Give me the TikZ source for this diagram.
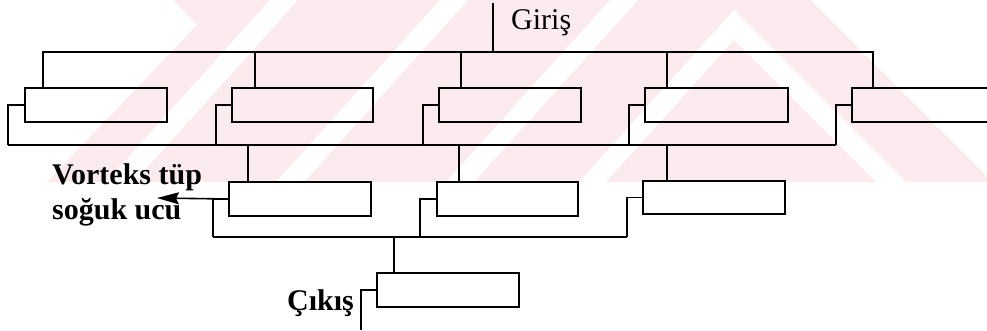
\documentclass[tikz,border=0pt]{standalone}
\usepackage{fontspec}
\setmainfont{Liberation Serif}
\usetikzlibrary{arrows.meta,calc}
\definecolor{wmpink}{RGB}{252,235,238}
\begin{document}
\begin{tikzpicture}[x=1pt,y=-1pt,
  unit/.style={draw, line width=1.6pt, minimum width=142pt, minimum height=34pt,
    anchor=north west, inner sep=0pt, outer sep=0pt},
  pipe/.style={line width=1.6pt, line join=miter},
  lbl/.style={font=\fontsize{30}{35}\selectfont\bfseries, inner sep=0pt, align=left},
  plain/.style={font=\fontsize{30}{35}\selectfont, inner sep=0pt}]
\useasboundingbox (0,0) rectangle (987,330);

% background striped watermark
\begin{scope}
  \clip (0,0) rectangle (987,182);
  \fill[wmpink] (173,0) -- (197,25) -- (47,182) -- (992,182) -- (810,0) -- cycle;
  \foreach \c in {270,440,610}
    \fill[white] (\c,0) -- ++(28,0) -- ++(-164,182) -- ++(-28,0) -- cycle;
  \fill[white] (734,10) -- (906,182) -- (876,182) -- (734,40) -- (606,182) -- (579,182) -- cycle;
\end{scope}

% first stage
\node[unit] (b1) at (25,88) {};
\node[unit, minimum width=141pt] (b2) at (232,88) {};
\node[unit] (b3) at (439,88) {};
\node[unit, minimum width=143pt] (b4) at (645,88) {};
\node[unit, minimum width=150pt] (b5) at (852,88) {};

% second stage
\node[unit] (b6) at (229,182) {};
\node[unit, minimum width=141pt] (b7) at (437,182) {};
\node[unit, minimum height=33pt] (b8) at (643,181) {};

% third stage
\node[unit] (b9) at (377,273) {};

% inlet header
\coordinate (gin) at (493,3);
\coordinate (hdr) at (493,52);
\draw[pipe] (gin) -- (hdr);
\draw[pipe] ([xshift=18pt]b1.north west) |- (hdr) -| ([xshift=21pt]b5.north west);
\foreach \b/\d in {b2/23,b3/22,b4/22}
  \draw[pipe] ([xshift=\d pt]\b.north west) -- ([xshift=\d pt]\b.north west |- hdr);
\node[plain, anchor=base west] (giris) at (511,29) {Giriş};

% collector of first stage, feeding second stage
\coordinate (m2) at (459,145);
\draw[pipe] (b1.west) -- ++(-17,0) coordinate (s1) -- (s1 |- m2);
\draw[pipe] (b5.west) -- ++(-16,0) coordinate (s5) -- (s5 |- m2);
\draw[pipe] (s1 |- m2) -- (s5 |- m2);
\foreach \b/\n in {b2/s2,b3/s3,b4/s4}
  \draw[pipe] (\b.west) -- ++(-16,0) coordinate (\n) -- (\n |- m2);
\foreach \b/\d in {b6/19,b7/22,b8/24}
  \draw[pipe] ([xshift=\d pt]\b.north west) -- ([xshift=\d pt]\b.north west |- m2);

% cold end outlet and collector of second stage
\coordinate (cold) at (157,198);
\coordinate (m3) at (394,237);
\draw[pipe, -{Stealth[length=22pt,width=12pt,inset=3pt]}] (b6.west) -- (cold);
\draw[pipe] (b6.west) -- ++(-16,0) coordinate (s6) -- (s6 |- m3);
\draw[pipe] (b7.west) -- ++(-17,0) coordinate (s7) -- (s7 |- m3);
\draw[pipe] (b8.west) -- ++(-16,0) coordinate (s8) -- (s8 |- m3);
\draw[pipe] (s6 |- m3) -- (s8 |- m3);
\draw[pipe] (m3) -- ([xshift=17pt]b9.north west);
\node[lbl, anchor=base west] (coldlbl) at (52,219) {Vorteks tüp\\soğuk ucu};

% final outlet
\coordinate (out) at (361,330);
\draw[pipe] (b9.west) -- ++(-16,0) coordinate (s9) -- (out);
\node[lbl, anchor=base east] (cikis) at (354,310) {Çıkış};
\end{tikzpicture}
\end{document}
